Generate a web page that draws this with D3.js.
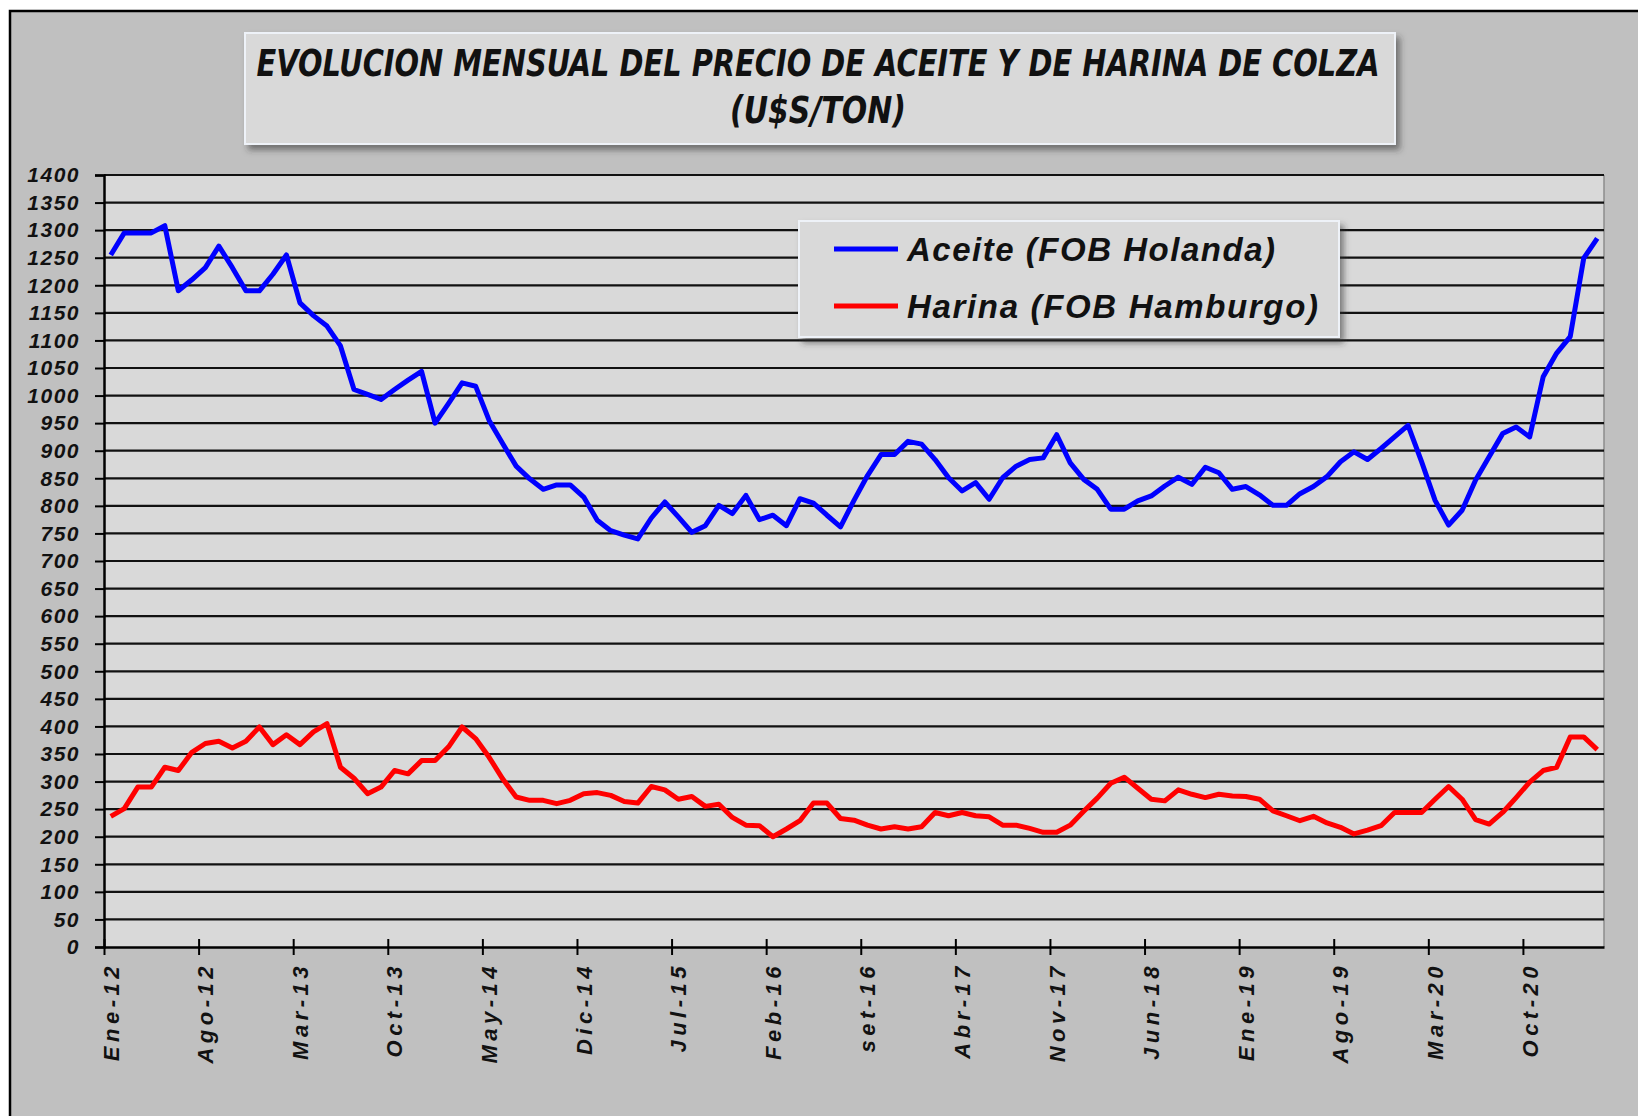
<!DOCTYPE html>
<html>
<head>
<meta charset="utf-8">
<script src="https://cdn.jsdelivr.net/npm/d3@7"></script>
<style>
  html, body { margin: 0; padding: 0; background: #fff; }
  svg { display: block; }
  .lbl { font-family: "Liberation Sans", Arial, sans-serif; font-weight: bold; font-style: italic; fill: #111; }
  .ttl { font-family: "Liberation Sans Narrow", "DejaVu Sans Condensed", "Liberation Sans", sans-serif; font-weight: bold; font-style: italic; fill: #111; }
</style>
</head>
<body>
<div id="chart"></div>
<script>
'use strict';

// Etiquetas del eje X (una cada 7 meses, desde Ene-12)
const tickLabels = ["Ene-12", "Ago-12", "Mar-13", "Oct-13", "May-14", "Dic-14", "Jul-15", "Feb-16",
    "set-16", "Abr-17", "Nov-17", "Jun-18", "Ene-19", "Ago-19", "Mar-20", "Oct-20"];
const tickEvery = 7;

// Aceite de colza, FOB Holanda (U$S/ton), mensual Ene-12 .. Mar-21
const aceite = [
    1255, 1295, 1295, 1295, 1308, 1190, 1210, 1232, 1271, 1232,
    1190, 1190, 1220, 1255, 1168, 1145, 1126, 1090, 1011, 1002,
    993, 1011, 1028, 1044, 950, 986, 1023, 1017, 955, 913,
    872, 849, 830, 838, 838, 816, 774, 755, 747, 740,
    778, 807, 780, 752, 764, 801, 786, 819, 775, 783,
    764, 813, 805, 783, 762, 810, 855, 893, 893, 917,
    912, 884, 851, 827, 842, 812, 851, 872, 884, 887,
    929, 878, 848, 830, 794, 794, 809, 818, 836, 852,
    839, 870, 860, 830, 835, 820, 801, 801, 822, 835,
    853, 880, 898, 884, 904, 925, 946, 880, 810, 765,
    792, 847, 889, 931, 943, 925, 1034, 1077, 1107, 1249,
    1285
];

// Harina de colza, FOB Hamburgo (U$S/ton)
const harina = [
    237, 251, 290, 290, 326, 320, 353, 369, 373, 361,
    373, 399, 367, 385, 367, 390, 405, 326, 306, 278,
    290, 320, 314, 338, 338, 363, 399, 378, 344, 305,
    272, 266, 266, 260, 266, 278, 280, 275, 264, 261,
    291, 285, 268, 273, 255, 259, 235, 221, 220, 200,
    214, 229, 261, 261, 233, 230, 221, 214, 218, 214,
    218, 244, 238, 244, 238, 236, 221, 221, 215, 208,
    208, 221, 246, 270, 297, 308, 288, 268, 265, 285,
    277, 271, 277, 274, 273, 268, 247, 238, 229, 237,
    225, 217, 205, 212, 220, 244, 244, 244, 268, 291,
    268, 231, 223, 244, 271, 299, 320, 326, 381, 381,
    358
];

const yTicks = d3.range(0, 1401, 50);

const seriesNames = ["Aceite (FOB Holanda)", "Harina (FOB Hamburgo)"];
const seriesColors = ["#0000ff", "#ff0000"];

const width = 1638, height = 1116;
const plot = {left: 104, right: 1604, top: 175, bottom: 947};

const svg = d3.select("#chart").append("svg")
    .attr("width", width)
    .attr("height", height);

// sombra para los recuadros de titulo y leyenda
const shadow = svg.append("defs").append("filter")
    .attr("id", "shadow")
    .attr("x", "-5%").attr("y", "-10%")
    .attr("width", "115%").attr("height", "140%");
shadow.append("feDropShadow")
    .attr("dx", 4).attr("dy", 5)
    .attr("stdDeviation", 3)
    .attr("flood-color", "#333")
    .attr("flood-opacity", 0.55);

// fondo exterior con marco
svg.append("rect")
    .attr("x", 10).attr("y", 11)
    .attr("width", width).attr("height", height)
    .attr("fill", "#c0c0c0")
    .attr("stroke", "#000")
    .attr("stroke-width", 2.5);

const x = d3.scaleLinear().domain([0, aceite.length]).range([plot.left, plot.right]);
const y = d3.scaleLinear().domain([0, 1400]).range([plot.bottom, plot.top]);

// area de grafico
svg.append("rect")
    .attr("x", plot.left).attr("y", plot.top)
    .attr("width", plot.right - plot.left)
    .attr("height", plot.bottom - plot.top)
    .attr("fill", "#d9d9d9");
svg.append("line")
    .attr("x1", plot.right).attr("x2", plot.right)
    .attr("y1", plot.top).attr("y2", plot.bottom)
    .attr("stroke", "#8c8c8c").attr("stroke-width", 1.5);

// lineas de division horizontales
svg.append("g")
    .selectAll("line")
    .data(yTicks.filter(d => d > 0))
    .enter()
    .append("line")
        .attr("x1", plot.left).attr("x2", plot.right)
        .attr("y1", d => y(d)).attr("y2", d => y(d))
        .attr("stroke", "#111")
        .attr("stroke-width", 2.2);

// eje Y
const yAxis = svg.append("g")
    .attr("transform", "translate(" + plot.left + ",0)")
    .call(d3.axisLeft(y).tickValues(yTicks).tickSize(9).tickPadding(15).tickFormat(d3.format("d")));
yAxis.select(".domain").attr("stroke", "#000").attr("stroke-width", 2.5);
yAxis.selectAll(".tick line").attr("stroke", "#000").attr("stroke-width", 2);
yAxis.selectAll(".tick text")
    .attr("class", "lbl")
    .style("font-size", "21px")
    .style("letter-spacing", "1.5px");

// eje X
const xTickValues = tickLabels.map((d, i) => i * tickEvery);
const xAxis = svg.append("g")
    .attr("transform", "translate(0," + plot.bottom + ")")
    .call(d3.axisBottom(x).tickValues(xTickValues).tickSize(8).tickSizeOuter(0).tickFormat(""));
xAxis.select(".domain").attr("stroke", "#000").attr("stroke-width", 2.5);
xAxis.selectAll(".tick line").attr("y1", -8).attr("stroke", "#000").attr("stroke-width", 2);

svg.append("g")
    .selectAll("text")
    .data(tickLabels)
    .enter()
    .append("text")
        .attr("class", "lbl")
        .attr("transform", (d, i) => "translate(" + x(i * tickEvery + 0.5) + "," + (plot.bottom + 15) + ") rotate(-90)")
        .attr("dy", "0.36em")
        .attr("text-anchor", "end")
        .style("font-size", "22px")
        .style("letter-spacing", "4.5px")
        .text(d => d);

// series
const line = d3.line()
    .x((d, i) => x(i + 0.5))
    .y(d => y(d));

[aceite, harina].forEach((serie, k) => {
    svg.append("path")
        .datum(serie)
        .attr("fill", "none")
        .attr("stroke", seriesColors[k])
        .attr("stroke-width", 5)
        .attr("stroke-linejoin", "round")
        .attr("d", line);
});

// titulo
const title = svg.append("g");
title.append("rect")
    .attr("x", 245).attr("y", 33)
    .attr("width", 1150).attr("height", 111)
    .attr("fill", "#d9d9d9")
    .attr("stroke", "#eef2f8")
    .attr("stroke-width", 2)
    .attr("filter", "url(#shadow)");
title.append("text")
    .attr("class", "ttl")
    .attr("x", 818).attr("y", 76)
    .attr("text-anchor", "middle")
    .attr("textLength", 1123)
    .attr("lengthAdjust", "spacingAndGlyphs")
    .style("font-size", "37px")
    .text("EVOLUCION MENSUAL DEL PRECIO DE ACEITE Y DE HARINA DE COLZA");
title.append("text")
    .attr("class", "ttl")
    .attr("x", 818).attr("y", 123)
    .attr("text-anchor", "middle")
    .attr("textLength", 176)
    .attr("lengthAdjust", "spacingAndGlyphs")
    .style("font-size", "37px")
    .text("(U$S/TON)");

// leyenda
const legend = svg.append("g");
legend.append("rect")
    .attr("x", 799).attr("y", 221)
    .attr("width", 540).attr("height", 116)
    .attr("fill", "#d9d9d9")
    .attr("stroke", "#eef2f8")
    .attr("stroke-width", 2)
    .attr("filter", "url(#shadow)");
const legendY = [249, 306];
const legendLen = [368, 411];
seriesNames.forEach((name, k) => {
    legend.append("line")
        .attr("x1", 834).attr("x2", 898)
        .attr("y1", legendY[k]).attr("y2", legendY[k])
        .attr("stroke", seriesColors[k])
        .attr("stroke-width", 5);
    legend.append("text")
        .attr("class", "lbl")
        .attr("x", 907).attr("y", legendY[k] + 12)
        .attr("textLength", legendLen[k])
        .attr("lengthAdjust", "spacing")
        .style("font-size", "33px")
        .text(name);
});
</script>
</body>
</html>
